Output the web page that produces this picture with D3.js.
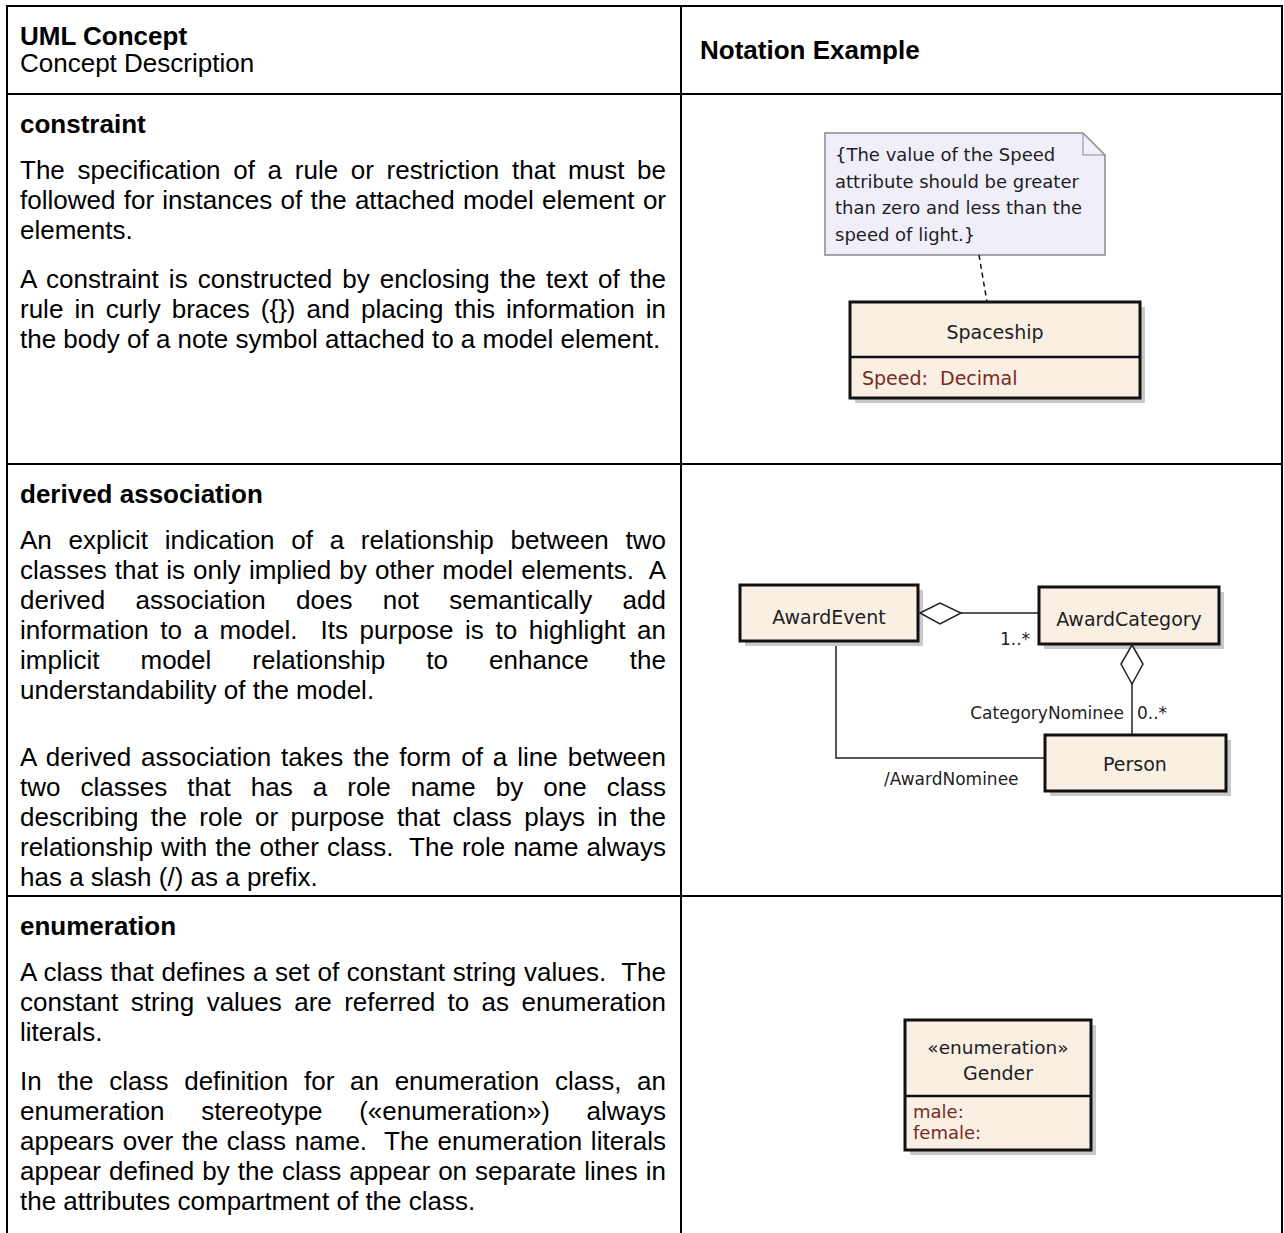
<!DOCTYPE html>
<html><head><meta charset="utf-8">
<script src="https://cdn.jsdelivr.net/npm/d3@7"></script>
<style>
html,body{margin:0;padding:0;background:#fff;}
svg{display:block;}
text{white-space:pre;}
</style></head>
<body><svg id="c" width="1284" height="1233"></svg>
<script>
// ---------- data ----------
const headerConcept = "UML Concept";
const headerDescription = "Concept Description";
const headerNotation = "Notation Example";
const conceptNames = ["constraint", "derived association", "enumeration"];
const conceptParagraphs = [
  [
    ["The specification of a rule or restriction that must be",
     "followed for instances of the attached model element or",
     "elements."],
    ["A constraint is constructed by enclosing the text of the",
     "rule in curly braces ({}) and placing this information in",
     "the body of a note symbol attached to a model element."]
  ],
  [
    ["An explicit indication of a relationship between two",
     "classes that is only implied by other model elements.  A",
     "derived association does not semantically add",
     "information to a model.  Its purpose is to highlight an",
     "implicit model relationship to enhance the",
     "understandability of the model."],
    [],
    ["A derived association takes the form of a line between",
     "two classes that has a role name by one class",
     "describing the role or purpose that class plays in the",
     "relationship with the other class.  The role name always",
     "has a slash (/) as a prefix."]
  ],
  [
    ["A class that defines a set of constant string values.  The",
     "constant string values are referred to as enumeration",
     "literals."],
    ["In the class definition for an enumeration class, an",
     "enumeration stereotype («enumeration») always",
     "appears over the class name.  The enumeration literals",
     "appear defined by the class appear on separate lines in",
     "the attributes compartment of the class."]
  ]
];
const noteLines = ["{The value of the Speed", "attribute should be greater",
                   "than zero and less than the", "speed of light.}"];
const constraintClass = "Spaceship";
const constraintAttrs = ["Speed:  Decimal"];
const assocClasses = ["AwardEvent", "AwardCategory", "Person"];
const assocMultiplicities = ["1..*", "0..*"];
const assocRoles = ["CategoryNominee", "/AwardNominee"];
const enumStereotype = "«enumeration»";
const enumName = "Gender";
const enumLiterals = ["male:", "female:"];

// ---------- layout ----------
const svg = d3.select("#c");
const X0 = 7, XD = 681, X1 = 1282;
const rowEdges = [6, 94, 464, 896, 1240];
const FONT = "'Liberation Sans', Arial, sans-serif";
const FS = 26, LH = 30, TITLE_GAP = 16, PARA_GAP = 18.5, BLANK_GAP = 18.5;
const textLeft = 20, textRight = 666;
const UMLFONT = "'DejaVu Sans', Verdana, sans-serif";

const g = svg.append("g");
g.append("path")
  .attr("d", `M${X0},${rowEdges[4]}V${rowEdges[0]}H${X1}V${rowEdges[4]}M${XD},${rowEdges[0]}V${rowEdges[4]}`)
  .attr("fill", "none").attr("stroke", "#000").attr("stroke-width", 2);
g.selectAll("line.h").data(rowEdges.slice(1, 4)).join("line")
  .attr("x1", X0).attr("x2", X1).attr("y1", d => d).attr("y2", d => d)
  .attr("stroke", "#000").attr("stroke-width", 2);

g.append("text").attr("x", textLeft).attr("y", 45).attr("font-family", FONT)
  .attr("font-size", FS).attr("font-weight", "bold").text(headerConcept);
g.append("text").attr("x", textLeft).attr("y", 72).attr("font-family", FONT)
  .attr("font-size", FS).text(headerDescription);
g.append("text").attr("x", XD + 19).attr("y", 59).attr("font-family", FONT)
  .attr("font-size", FS).attr("font-weight", "bold").text(headerNotation);

conceptNames.forEach((name, r) => {
  let y = rowEdges[r + 1] + 39;
  g.append("text").attr("x", textLeft).attr("y", y).attr("font-family", FONT)
    .attr("font-size", FS).attr("font-weight", "bold").text(name);
  y += LH + TITLE_GAP;
  let first = true;
  conceptParagraphs[r].forEach(para => {
    if (para.length === 0) { y += BLANK_GAP; return; }
    if (!first) y += LH + PARA_GAP;
    first = false;
    para.forEach((line, i) => {
      if (i > 0) y += LH;
      const t = g.append("text").attr("x", textLeft).attr("y", y)
        .attr("font-family", FONT).attr("font-size", FS).text(line);
      if (i < para.length - 1) {
        const spaces = (line.match(/ /g) || []).length;
        const w = t.node().getComputedTextLength();
        if (spaces > 0) t.attr("word-spacing", (textRight - textLeft - w) / spaces);
      }
    });
  });
});

// ---------- UML helpers ----------
const CLASS_FILL = "#f9efe3", SHADOW = "#c9c9c9", ATTR = "#7a2a24", INK = "#1e1e1e";
function classBox(x0, y0, x1, y1) {
  svg.append("rect").attr("x", x0 + 5).attr("y", y0 + 5).attr("width", x1 - x0).attr("height", y1 - y0)
    .attr("fill", SHADOW);
  svg.append("rect").attr("x", x0).attr("y", y0).attr("width", x1 - x0).attr("height", y1 - y0)
    .attr("fill", CLASS_FILL).attr("stroke", "#111").attr("stroke-width", 3);
}
function hline(x0, x1, y) {
  svg.append("line").attr("x1", x0).attr("x2", x1).attr("y1", y).attr("y2", y)
    .attr("stroke", "#111").attr("stroke-width", 2.5);
}
function label(x, y, s, opts = {}) {
  return svg.append("text").attr("x", x).attr("y", y).attr("font-family", UMLFONT)
    .attr("font-size", opts.fs || 17).attr("fill", opts.fill || INK)
    .attr("text-anchor", opts.anchor || "start").text(s);
}
const line = d3.line();

// ---------- row 1: constraint ----------
{
  const nx0 = 825, nx1 = 1105, ny0 = 133, ny1 = 255, fold = 22;
  svg.append("path").attr("d", line([[nx0, ny0], [nx1 - fold, ny0], [nx1, ny0 + fold], [nx1, ny1], [nx0, ny1]]) + "Z")
    .attr("fill", "#efeef9").attr("stroke", "#8a8a8a").attr("stroke-width", 1.5);
  svg.append("path").attr("d", line([[nx1 - fold, ny0], [nx1 - fold, ny0 + fold], [nx1, ny0 + fold]]))
    .attr("fill", "none").attr("stroke", "#8a8a8a").attr("stroke-width", 1);
  noteLines.forEach((s, i) => label(835, 161 + i * 26.5, s, {fs: 18}));
  svg.append("path").attr("d", line([[979, ny1], [987, 302]]))
    .attr("stroke", "#111").attr("stroke-width", 1.5).attr("stroke-dasharray", "5,4");
  classBox(850, 302, 1140, 398);
  hline(850, 1140, 357);
  label(995, 339, constraintClass, {fs: 19, anchor: "middle"});
  constraintAttrs.forEach((s, i) => label(862, 385 + i * 22, s, {fs: 19, fill: ATTR}));
}

// ---------- row 2: derived association ----------
{
  svg.append("path").attr("d", line([[836, 640], [836, 758], [1045, 758]]))
    .attr("fill", "none").attr("stroke", "#222").attr("stroke-width", 1.5);
  svg.append("line").attr("x1", 961).attr("x2", 1039).attr("y1", 613).attr("y2", 613)
    .attr("stroke", "#222").attr("stroke-width", 1.5);
  svg.append("line").attr("x1", 1132).attr("x2", 1132).attr("y1", 684).attr("y2", 735)
    .attr("stroke", "#222").attr("stroke-width", 1.5);
  classBox(740, 585, 918, 641);
  classBox(1039, 587, 1219, 644);
  classBox(1045, 735, 1226, 791);
  svg.append("path").attr("d", line([[920, 613], [940, 603], [961, 613], [940, 624]]) + "Z")
    .attr("fill", "#fff").attr("stroke", "#222").attr("stroke-width", 1.5);
  svg.append("path").attr("d", line([[1132, 645], [1143, 664], [1132, 684], [1121, 664]]) + "Z")
    .attr("fill", "#fff").attr("stroke", "#222").attr("stroke-width", 1.5);
  label(829, 624, assocClasses[0], {fs: 19, anchor: "middle"});
  label(1129, 626, assocClasses[1], {fs: 19, anchor: "middle"});
  label(1135, 771, assocClasses[2], {fs: 19, anchor: "middle"});
  label(1000, 645, assocMultiplicities[0], {fs: 17});
  label(1137, 719, assocMultiplicities[1], {fs: 17});
  label(1124, 719, assocRoles[0], {fs: 17, anchor: "end"});
  label(884, 785, assocRoles[1], {fs: 17});
}

// ---------- row 3: enumeration ----------
{
  classBox(905, 1020, 1091, 1150);
  hline(905, 1091, 1096);
  label(998, 1054, enumStereotype, {fs: 18.5, anchor: "middle"});
  label(998, 1080, enumName, {fs: 19, anchor: "middle"});
  enumLiterals.forEach((s, i) => label(913, 1118 + i * 21, s, {fs: 18, fill: ATTR}));
}
</script></body></html>
